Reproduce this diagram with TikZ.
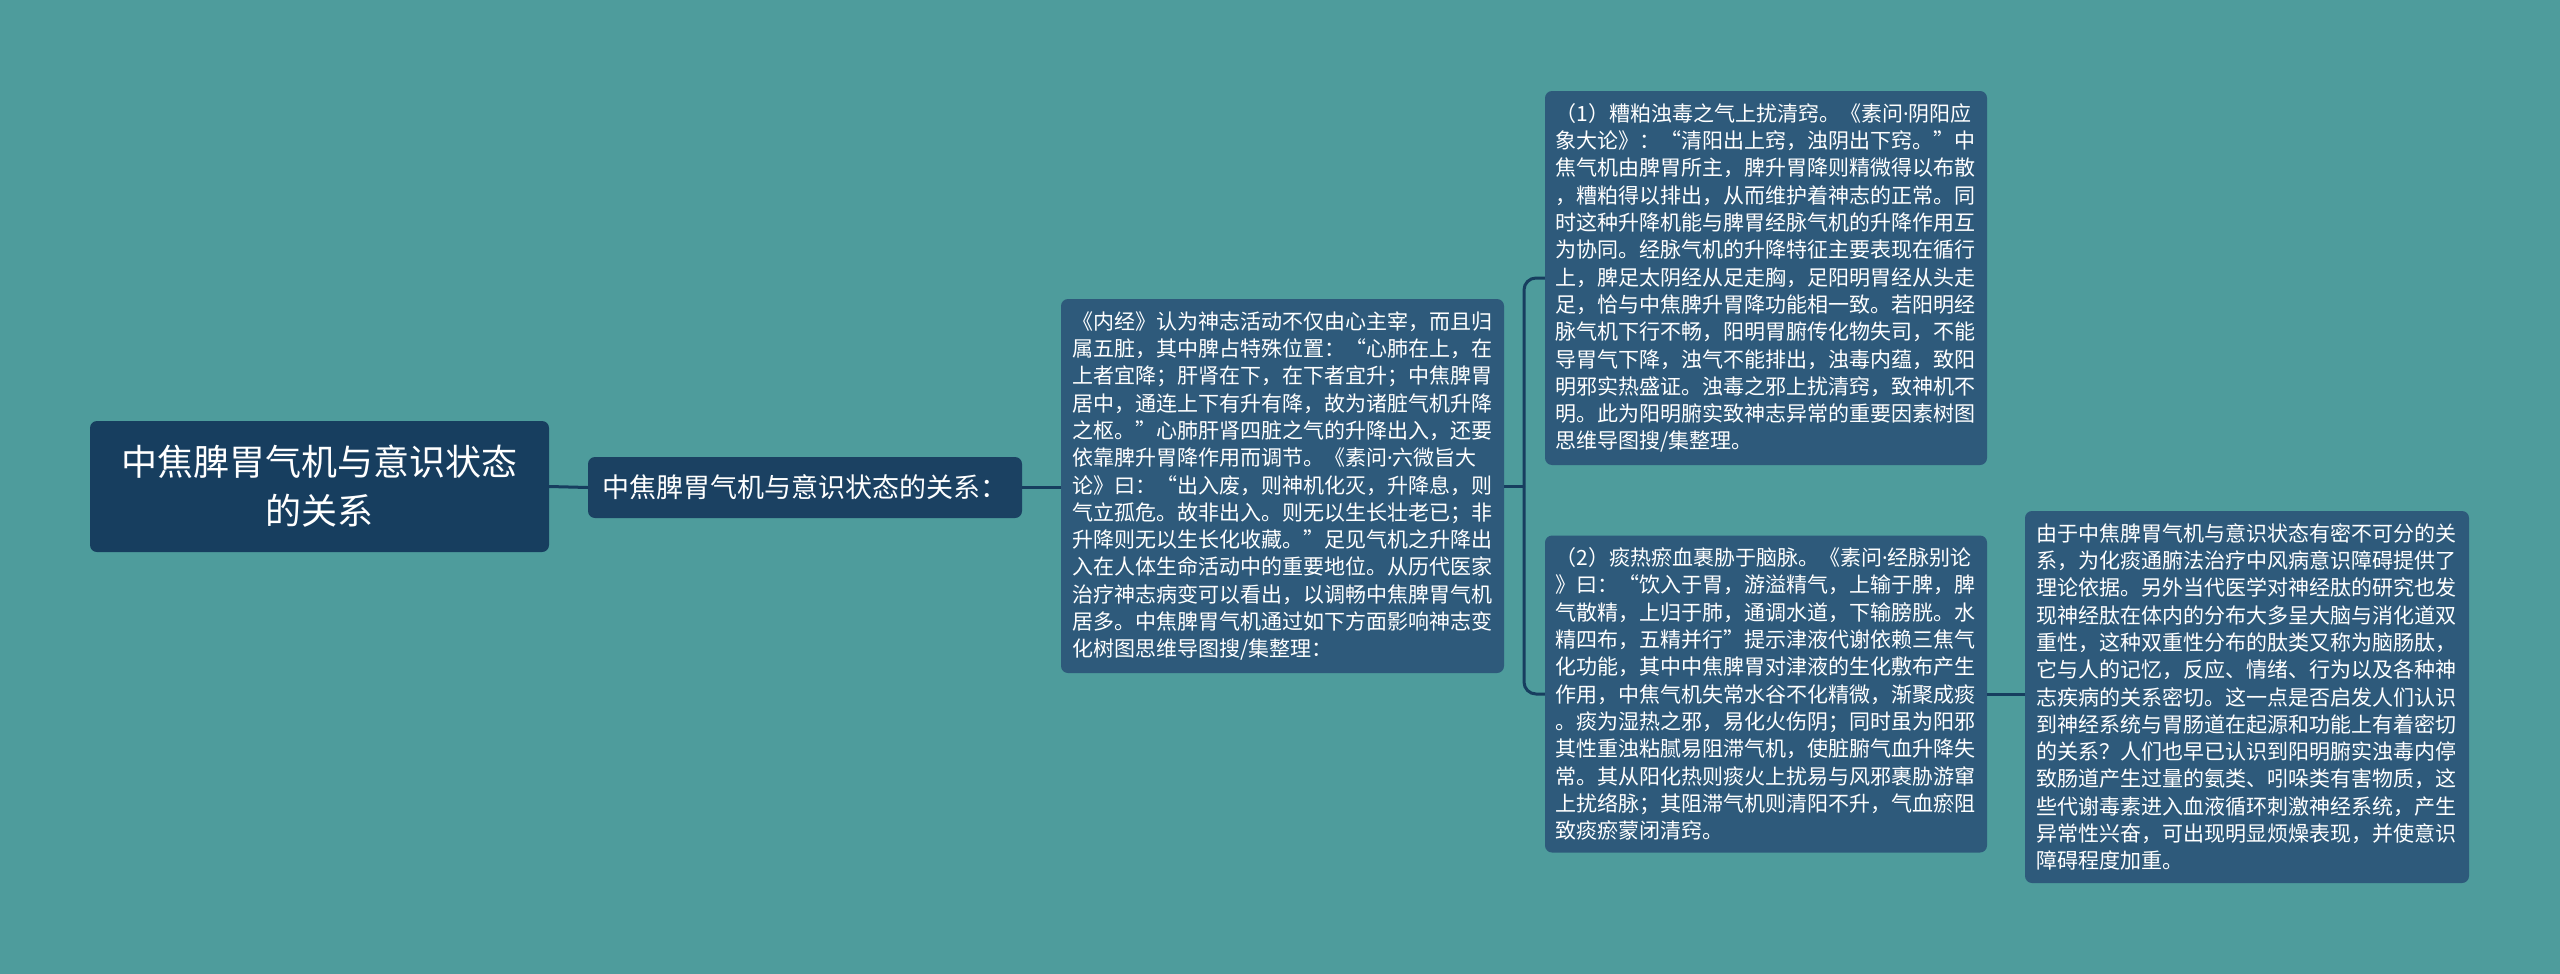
\documentclass[tikz,border=0pt]{standalone}
\usepackage{fontspec}
\newfontfamily\cjk{Noto Sans CJK SC}
\newfontfamily\latn{Noto Sans}
\newcommand{\mdot}{{\latn ·}}
\definecolor{bgc}{HTML}{4E9C9C}
\definecolor{rootc}{HTML}{173E5F}
\definecolor{midc}{HTML}{1B4162}
\definecolor{leafc}{HTML}{2E5A7B}
\definecolor{linec}{HTML}{173E5F}
\tikzset{
  box/.style={rounded corners=7pt, text=white, inner xsep=0pt, inner ysep=0pt, draw=none},
  rootbox/.style={box, fill=rootc, minimum width=459pt, minimum height=131pt, align=center,
     font=\cjk\fontsize{36}{49}\selectfont},
  midbox/.style={box, fill=midc, minimum width=434pt, minimum height=61pt, align=center,
     font=\cjk\fontsize{27}{32}\selectfont},
  leafbox/.style={box, fill=leafc, text width=421pt, align=left,
     font=\cjk\fontsize{21}{27.3}\selectfont},
  conn/.style={draw=linec, line width=3pt},
}
\begin{document}
\begin{tikzpicture}[x=1pt,y=-1pt]
\fill[bgc] (0,0) rectangle (2560,974);
\useasboundingbox (0,0) rectangle (2560,974);

\node[rootbox] (root) at (319.5,486.5) {中焦脾胃气机与意识状态\\的关系};
\node[midbox] (mid) at (805,487.5) {中焦脾胃气机与意识状态的关系：};

\node[leafbox, minimum width=443pt, minimum height=374pt] (n3) at (1282.5,486) {%
《内经》认为神志活动不仅由心主宰，而且归\\
属五脏，其中脾占特殊位置：“心肺在上，在\\
上者宜降；肝肾在下，在下者宜升；中焦脾胃\\
居中，通连上下有升有降，故为诸脏气机升降\\
之枢。”心肺肝肾四脏之气的升降出入，还要\\
依靠脾升胃降作用而调节。《素问\mdot 六微旨大\\
论》曰：“出入废，则神机化灭，升降息，则\\
气立孤危。故非出入。则无以生长壮老已；非\\
升降则无以生长化收藏。”足见气机之升降出\\
入在人体生命活动中的重要地位。从历代医家\\
治疗神志病变可以看出，以调畅中焦脾胃气机\\
居多。中焦脾胃气机通过如下方面影响神志变\\
化树图思维导图搜/集整理：};

\node[leafbox, minimum width=442pt, minimum height=374pt] (n4) at (1766,278) {%
（1）糟粕浊毒之气上扰清窍。《素问\mdot 阴阳应\\
象大论》：“清阳出上窍，浊阴出下窍。”中\\
焦气机由脾胃所主，脾升胃降则精微得以布散\\
，糟粕得以排出，从而维护着神志的正常。同\\
时这种升降机能与脾胃经脉气机的升降作用互\\
为协同。经脉气机的升降特征主要表现在循行\\
上，脾足太阴经从足走胸，足阳明胃经从头走\\
足，恰与中焦脾升胃降功能相一致。若阳明经\\
脉气机下行不畅，阳明胃腑传化物失司，不能\\
导胃气下降，浊气不能排出，浊毒内蕴，致阳\\
明邪实热盛证。浊毒之邪上扰清窍，致神机不\\
明。此为阳明腑实致神志异常的重要因素树图\\
思维导图搜/集整理。};

\node[leafbox, minimum width=442pt, minimum height=317pt] (n5) at (1766,694) {%
（2）痰热瘀血裹胁于脑脉。《素问\mdot 经脉别论\\
》曰：“饮入于胃，游溢精气，上输于脾，脾\\
气散精，上归于肺，通调水道，下输膀胱。水\\
精四布，五精并行”提示津液代谢依赖三焦气\\
化功能，其中中焦脾胃对津液的生化敷布产生\\
作用，中焦气机失常水谷不化精微，渐聚成痰\\
。痰为湿热之邪，易化火伤阴；同时虽为阳邪\\
其性重浊粘腻易阻滞气机，使脏腑气血升降失\\
常。其从阳化热则痰火上扰易与风邪裹胁游窜\\
上扰络脉；其阻滞气机则清阳不升，气血瘀阻\\
致痰瘀蒙闭清窍。};

\node[leafbox, minimum width=444pt, minimum height=372pt] (n6) at (2247,697) {%
由于中焦脾胃气机与意识状态有密不可分的关\\
系，为化痰通腑法治疗中风病意识障碍提供了\\
理论依据。另外当代医学对神经肽的研究也发\\
现神经肽在体内的分布大多呈大脑与消化道双\\
重性，这种双重性分布的肽类又称为脑肠肽，\\
它与人的记忆，反应、情绪、行为以及各种神\\
志疾病的关系密切。这一点是否启发人们认识\\
到神经系统与胃肠道在起源和功能上有着密切\\
的关系？人们也早已认识到阳明腑实浊毒内停\\
致肠道产生过量的氨类、吲哚类有害物质，这\\
些代谢毒素进入血液循环刺激神经系统，产生\\
异常性兴奋，可出现明显烦燥表现，并使意识\\
障碍程度加重。};

\coordinate (j) at (1524,486);
\draw[conn] (root.east) -- (mid.west);
\draw[conn] (mid.east) -- (mid.east -| n3.west);
\draw[conn] (n3.east) -- (j);
\draw[conn, rounded corners=12pt] (j) |- (n4.west);
\draw[conn, rounded corners=12pt] (j) |- (n5.west);
\draw[conn] (n5.east) -- (n5.east -| n6.west);
\end{tikzpicture}
\end{document}
